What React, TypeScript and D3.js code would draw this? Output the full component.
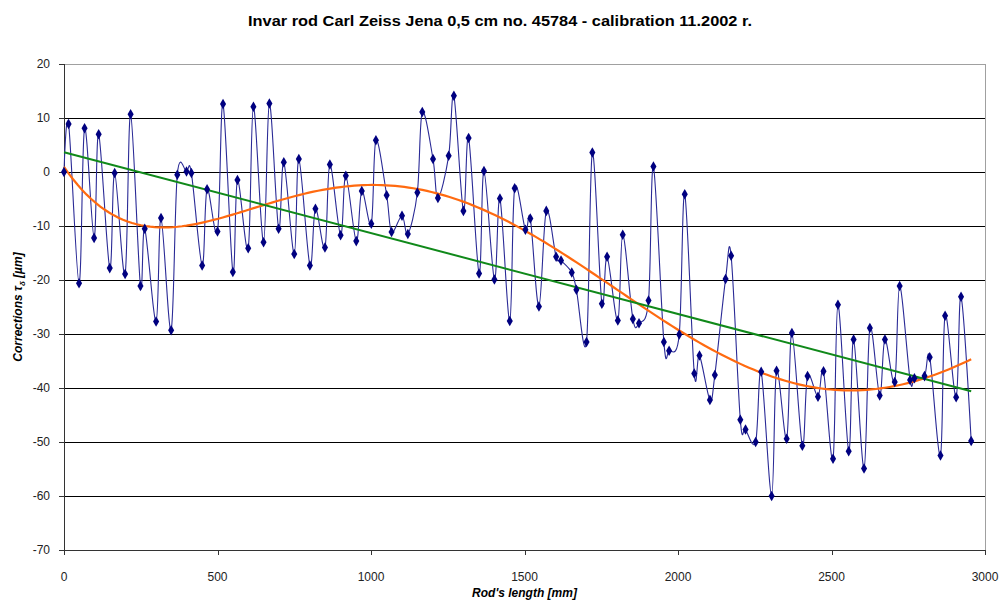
import React from "react";
import * as d3 from "d3";

const positions: number[] = [
  0, 15, 49, 67, 98, 113, 149, 165, 199, 217, 249, 263, 300, 316, 349, 369,
  399, 415, 450, 466, 500, 518, 550, 565, 600, 617, 650, 669, 699, 716, 750, 765,
  801, 819, 850, 866, 901, 918, 952, 970, 1001, 1016, 1051, 1067, 1101, 1120,
  1151, 1167, 1202, 1218, 1253, 1270, 1301, 1318, 1352, 1368, 1402, 1420, 1452, 1468,
  1503, 1519, 1547, 1571, 1603, 1619, 1654, 1669, 1702, 1721, 1752, 1769, 1804, 1820,
  1853, 1873, 1904, 1920, 1954, 1971, 2004, 2022, 2053, 2070, 2104, 2120, 2155, 2173,
  2203, 2220, 2253, 2271, 2305, 2321, 2354, 2371, 2405, 2422, 2456, 2474, 2505, 2521,
  2556, 2572, 2606, 2625, 2657, 2674, 2706, 2722, 2756, 2770, 2803, 2820, 2855, 2870,
  2906, 2922, 2955,
];

const corrections: number[] = [
  0, 8.9, -20.6, 8.1, -12.2, 7.0, -17.8, -0.2, -18.9, 10.7, -21.1, -10.5, -27.7, -8.5, -29.3, -0.5,
  0.1, -0.2, -17.3, -3.2, -11.0, 12.6, -18.5, -1.5, -14.1, 12.1, -13.0, 12.7, -10.5, 1.8, -15.2, 2.4,
  -17.3, -6.8, -14.0, 1.4, -11.7, -0.7, -12.8, -3.5, -9.6, 5.9, -4.3, -11.1, -8.1, -11.5,
  -3.8, 11.1, 2.4, -4.8, 3.0, 14.1, -7.2, 6.3, -18.8, 0.2, -19.9, -4.9, -27.6, -3.0,
  -10.7, -8.6, -24.9, -7.2, -15.7, -16.4, -18.6, -21.8, -31.5, 3.6, -24.4, -15.7, -27.5, -11.6,
  -27.2, -28.0, -23.8, 1.0, -31.5, -33.1, -30.1, -4.1, -37.3, -34.0, -42.2, -37.6, -19.8, -15.5,
  -45.9, -47.7, -50.0, -37.0, -60.0, -36.8, -49.4, -29.8, -50.7, -37.8, -41.6, -36.9, -53.1, -24.6,
  -51.7, -31.0, -54.9, -28.9, -41.4, -31.0, -38.9, -21.1, -38.5, -38.2, -37.8, -34.3, -52.5, -26.6,
  -41.7, -23.1, -49.8,
];

// polynomial trend line (orange)
const trendX: number[] = [
  0, 80, 135, 190, 285, 375, 470, 580, 655, 770, 860, 970, 1055, 1150, 1250, 1360, 1470,
  1550, 1640, 1750, 1860, 1940, 2035, 2140, 2250, 2330, 2420, 2505, 2600, 2655, 2720, 2815, 2955,
];
const trendY: number[] = [
  1.1, -4.6, -7.3, -8.9, -9.9, -10.0, -9.2, -7.3, -6.1, -4.4, -3.0, -2.3, -2.4, -3.2, -4.6, -7.0, -10.1,
  -12.2, -15.7, -20.0, -23.7, -26.8, -30.5, -33.9, -36.7, -38.3, -39.8, -40.4, -40.4, -40.1, -39.4, -37.8, -34.8,
];

const xTicks: number[] = [0, 500, 1000, 1500, 2000, 2500, 3000];
const yTicks: number[] = [-70, -60, -50, -40, -30, -20, -10, 0, 10, 20];

const titleText = "Invar rod Carl Zeiss Jena 0,5 cm no. 45784 - calibration 11.2002 r.";
const xTitle = "Rod's length [mm]";

const W = 1001;
const H = 601;
const plot = { left: 64, right: 985, top: 64, bottom: 550 };

function polyfit(xs: number[], ys: number[], deg: number, scale: number): number[] {
  const n = deg + 1;
  const A: number[][] = Array.from({ length: n }, () => new Array(n + 1).fill(0));
  for (let k = 0; k < xs.length; k++) {
    const u = xs[k] / scale;
    const pw: number[] = [];
    let p = 1;
    for (let i = 0; i < 2 * n; i++) { pw.push(p); p *= u; }
    for (let i = 0; i < n; i++) {
      for (let j = 0; j < n; j++) A[i][j] += pw[i + j];
      A[i][n] += ys[k] * pw[i];
    }
  }
  for (let c = 0; c < n; c++) {
    let piv = c;
    for (let r = c + 1; r < n; r++) if (Math.abs(A[r][c]) > Math.abs(A[piv][c])) piv = r;
    [A[c], A[piv]] = [A[piv], A[c]];
    for (let r = 0; r < n; r++) {
      if (r === c) continue;
      const f = A[r][c] / A[c][c];
      for (let j = c; j <= n; j++) A[r][j] -= f * A[c][j];
    }
  }
  return A.map((row, i) => row[n] / row[i]);
}

function evalPoly(coef: number[], x: number, scale: number): number {
  const u = x / scale;
  let s = 0;
  for (let i = coef.length - 1; i >= 0; i--) s = s * u + coef[i];
  return s;
}

export default function App() {
  const x = d3.scaleLinear().domain([0, 3000]).range([plot.left, plot.right]);
  const y = d3.scaleLinear().domain([-70, 20]).range([plot.bottom, plot.top]);

  const pts: [number, number][] = positions.map((p, i) => [p, corrections[i]]);

  const dataLine = d3
    .line<[number, number]>()
    .x((d) => x(d[0]))
    .y((d) => y(d[1]))
    .curve(d3.curveCatmullRom.alpha(0));

  const scale = 3000;
  const xMin = d3.min(positions) as number;
  const xMax = d3.max(positions) as number;
  const lin = polyfit(positions, corrections, 1, scale);
  const poly = polyfit(trendX, trendY, 6, scale);
  const samples = d3.range(0, 201).map((i) => xMin + ((xMax - xMin) * i) / 200);
  const linePath = d3
    .line<number>()
    .x((d) => x(d))
    .y((d) => y(evalPoly(lin, d, scale)))([xMin, xMax]);
  const polyPath = d3
    .line<number>()
    .x((d) => x(d))
    .y((d) => y(evalPoly(poly, d, scale)))(samples);

  const diamond = d3.symbol().type(d3.symbolDiamond).size(32)() as string;
  const font = "'Liberation Sans', Arial, sans-serif";

  return (
    <svg
      width={W}
      height={H}
      style={{ position: "absolute", left: 0, top: 0, background: "#fff" }}
      fontFamily={font}
    >
      <rect x={0} y={0} width={W} height={H} fill="#fff" />
      <text x={500} y={26} textAnchor="middle" fontSize={15} fontWeight="bold" fill="#000" textLength={504} lengthAdjust="spacingAndGlyphs">
        {titleText}
      </text>

      {/* plot area border */}
      <line x1={plot.left} x2={plot.right} y1={plot.top + 0.5} y2={plot.top + 0.5} stroke="#a0a0a0" strokeWidth={1} />
      <line x1={plot.right + 0.5} x2={plot.right + 0.5} y1={plot.top} y2={plot.bottom} stroke="#a0a0a0" strokeWidth={1} />

      {/* gridlines */}
      {yTicks
        .filter((t) => t > -70 && t < 20)
        .map((t) => (
          <line key={"g" + t} x1={plot.left} x2={plot.right} y1={Math.round(y(t)) + 0.5} y2={Math.round(y(t)) + 0.5} stroke="#000" strokeWidth={1} />
        ))}

      {/* axes */}
      <line x1={plot.left + 0.5} x2={plot.left + 0.5} y1={plot.top} y2={plot.bottom} stroke="#333" strokeWidth={1} />
      <line x1={plot.left} x2={plot.right} y1={plot.bottom + 0.5} y2={plot.bottom + 0.5} stroke="#333" strokeWidth={1} />
      {yTicks.map((t) => (
        <g key={"y" + t}>
          <line x1={plot.left - 5} x2={plot.left} y1={Math.round(y(t)) + 0.5} y2={Math.round(y(t)) + 0.5} stroke="#333" />
          <text x={50} y={y(t) + 4} textAnchor="end" fontSize={12} fill="#222">
            {t}
          </text>
        </g>
      ))}
      {xTicks.map((t) => (
        <g key={"x" + t}>
          <line x1={Math.round(x(t)) + 0.5} x2={Math.round(x(t)) + 0.5} y1={plot.bottom} y2={plot.bottom + 5} stroke="#333" />
          <text x={x(t)} y={581} textAnchor="middle" fontSize={12} fill="#222">
            {t}
          </text>
        </g>
      ))}

      {/* data */}
      <path d={dataLine(pts) as string} fill="none" stroke="#2a2a96" strokeWidth={1.1} />
      <path d={polyPath as string} fill="none" stroke="#ff6a10" strokeWidth={2.2} />
      <path d={linePath as string} fill="none" stroke="#10891a" strokeWidth={2} />
      {pts.map((d, i) => (
        <path key={"m" + i} d={diamond} transform={`translate(${x(d[0])},${y(d[1])})`} fill="#000080" />
      ))}

      {/* axis titles */}
      <text x={(plot.left + plot.right) / 2} y={597} textAnchor="middle" fontSize={12} fontWeight="bold" fontStyle="italic" fill="#000">
        {xTitle}
      </text>
      <text
        transform={`translate(22,${(plot.top + plot.bottom) / 2}) rotate(-90)`}
        textAnchor="middle"
        fontSize={12}
        fontWeight="bold"
        fontStyle="italic"
        fill="#000"
      >
        Corrections τ<tspan fontSize={8} dy={3}>δ</tspan>
        <tspan dy={-3}> [µm]</tspan>
      </text>
    </svg>
  );
}
